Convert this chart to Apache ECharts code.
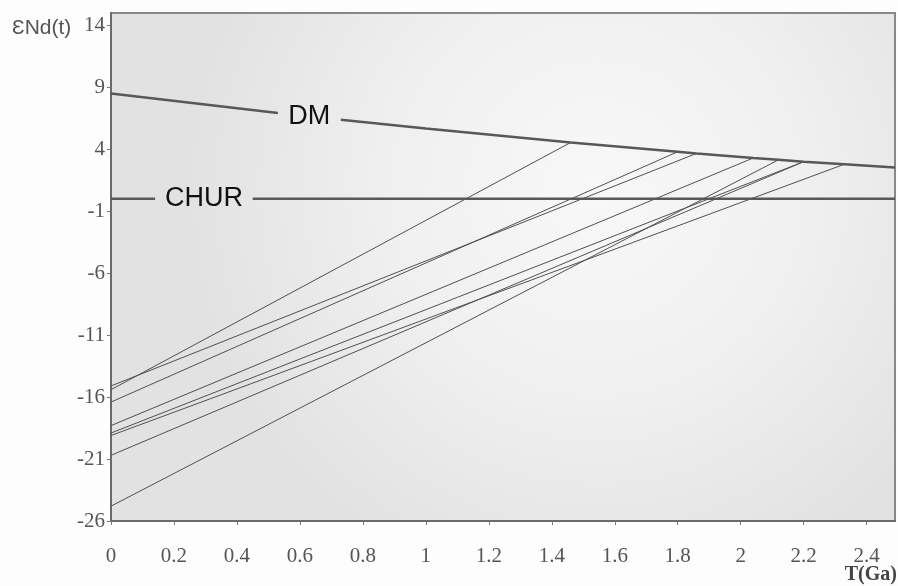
<!DOCTYPE html>
<html>
<head>
<meta charset="utf-8">
<script src="https://cdn.jsdelivr.net/npm/echarts@6/dist/echarts.min.js"></script>
<style>
html,body{margin:0;padding:0;background:#fdfdfd;}
#c{width:898px;height:586px;}
</style>
</head>
<body>
<div id="c"></div>
<script>
// ---- data ----
// Depleted mantle (DM) evolution curve: T (Ga) and εNd
const dmT = [0, 0.53, 0.73, 1.0, 1.46, 1.8, 1.86, 2.04, 2.12, 2.2, 2.33, 2.49];
const dmE = [8.5, 6.92, 6.38, 5.68, 4.55, 3.8, 3.67, 3.3, 3.15, 3.0, 2.8, 2.53];
// CHUR reference line
const churE = 0;
// Model-age lines: present-day εNd(0) and TDM (Ga) where each meets DM
const sampleEps0 = [-15.4, -15.1, -16.4, -18.3, -18.9, -19.1, -20.7, -24.8];
const sampleTdm  = [1.46, 1.86, 1.8, 2.04, 2.2, 2.33, 2.2, 2.12];
// axis ticks
const xTicks = [0, 0.2, 0.4, 0.6, 0.8, 1, 1.2, 1.4, 1.6, 1.8, 2, 2.2, 2.4];
const yTicks = [-26, -21, -16, -11, -6, -1, 4, 9, 14];
const xMin = 0, xMax = 2.49, yMin = -26, yMax = 15;

// gaps in the reference lines where the labels sit
const dmGap = [0.53, 0.73];
const churGap = [0.14, 0.45];

function dmAt(t){ const i = dmT.indexOf(t); return dmE[i]; }

const chart = echarts.init(document.getElementById('c'));
const series = [];
sampleEps0.forEach((e0, i) => {
  const t = sampleTdm[i];
  series.push({
    type: 'line', symbol: 'none', silent: true, animation: false,
    data: [[0, e0], [t, dmAt(t)]],
    lineStyle: { color: '#505050', width: 1 }, z: 3
  });
});
const dmLeft = [], dmRight = [];
dmT.forEach((t, i) => {
  if (t <= dmGap[0]) dmLeft.push([t, dmE[i]]);
  if (t >= dmGap[1]) dmRight.push([t, dmE[i]]);
});
[dmLeft, dmRight].forEach(d => series.push({
  type: 'line', symbol: 'none', silent: true, animation: false, data: d,
  lineStyle: { color: '#585858', width: 2.5 }, z: 4
}));
[[[xMin, churE], [churGap[0], churE]], [[churGap[1], churE], [xMax, churE]]].forEach(d => series.push({
  type: 'line', symbol: 'none', silent: true, animation: false, data: d,
  lineStyle: { color: '#585858', width: 2.5 }, z: 4
}));

const labelFont = '"Liberation Serif", "Times New Roman", serif';
chart.setOption({
  animation: false,
  backgroundColor: '#fdfdfd',
  grid: {
    left: 111, right: 3, top: 13, bottom: 65, show: true,
    borderColor: '#888', borderWidth: 2,
    backgroundColor: {
      type: 'radial', x: 0.62, y: 0.35, r: 0.8,
      colorStops: [
        { offset: 0, color: '#f8f8f8' },
        { offset: 0.5, color: '#f0f0f0' },
        { offset: 1, color: '#e2e2e2' }
      ]
    }
  },
  xAxis: {
    type: 'value', min: xMin, max: xMax,
    axisLine: { show: true, onZero: false, lineStyle: { color: '#6a6a6a', width: 2 } },
    axisTick: { show: true, customValues: xTicks, length: 4, lineStyle: { color: '#777' } },
    axisLabel: { customValues: xTicks, margin: 25, fontFamily: labelFont, fontSize: 21, color: '#555' },
    splitLine: { show: false }
  },
  yAxis: {
    type: 'value', min: yMin, max: yMax,
    axisLine: { show: true, onZero: false, lineStyle: { color: '#6a6a6a', width: 2 } },
    axisTick: { show: true, customValues: yTicks, length: 4, lineStyle: { color: '#777' } },
    axisLabel: { customValues: yTicks, margin: 6, fontFamily: labelFont, fontSize: 21, color: '#555' },
    splitLine: { show: false }
  },
  series: series
});

const pDM = chart.convertToPixel({ gridIndex: 0 }, [(dmGap[0] + dmGap[1]) / 2, (dmE[1] + dmE[2]) / 2]);
const pCH = chart.convertToPixel({ gridIndex: 0 }, [(churGap[0] + churGap[1]) / 2, churE]);
const sans = '"Liberation Sans", Arial, sans-serif';
chart.setOption({
  graphic: [
    { type: 'text', x: pDM[0], y: pDM[1], z: 10,
      style: { text: 'DM', font: '27px ' + sans, fill: '#111', align: 'center', verticalAlign: 'middle' } },
    { type: 'text', x: pCH[0], y: pCH[1], z: 10,
      style: { text: 'CHUR', font: '27px ' + sans, fill: '#111', align: 'center', verticalAlign: 'middle' } },
    { type: 'text', x: 12, y: 28, z: 10,
      style: { text: 'ƐNd(t)', font: '21px ' + sans, fill: '#555', align: 'left', verticalAlign: 'middle' } },
    { type: 'text', x: 897, y: 575, z: 10,
      style: { text: 'T(Ga)', font: 'bold 20px ' + labelFont, fill: '#444', align: 'right', verticalAlign: 'middle' } }
  ]
});
</script>
</body>
</html>
